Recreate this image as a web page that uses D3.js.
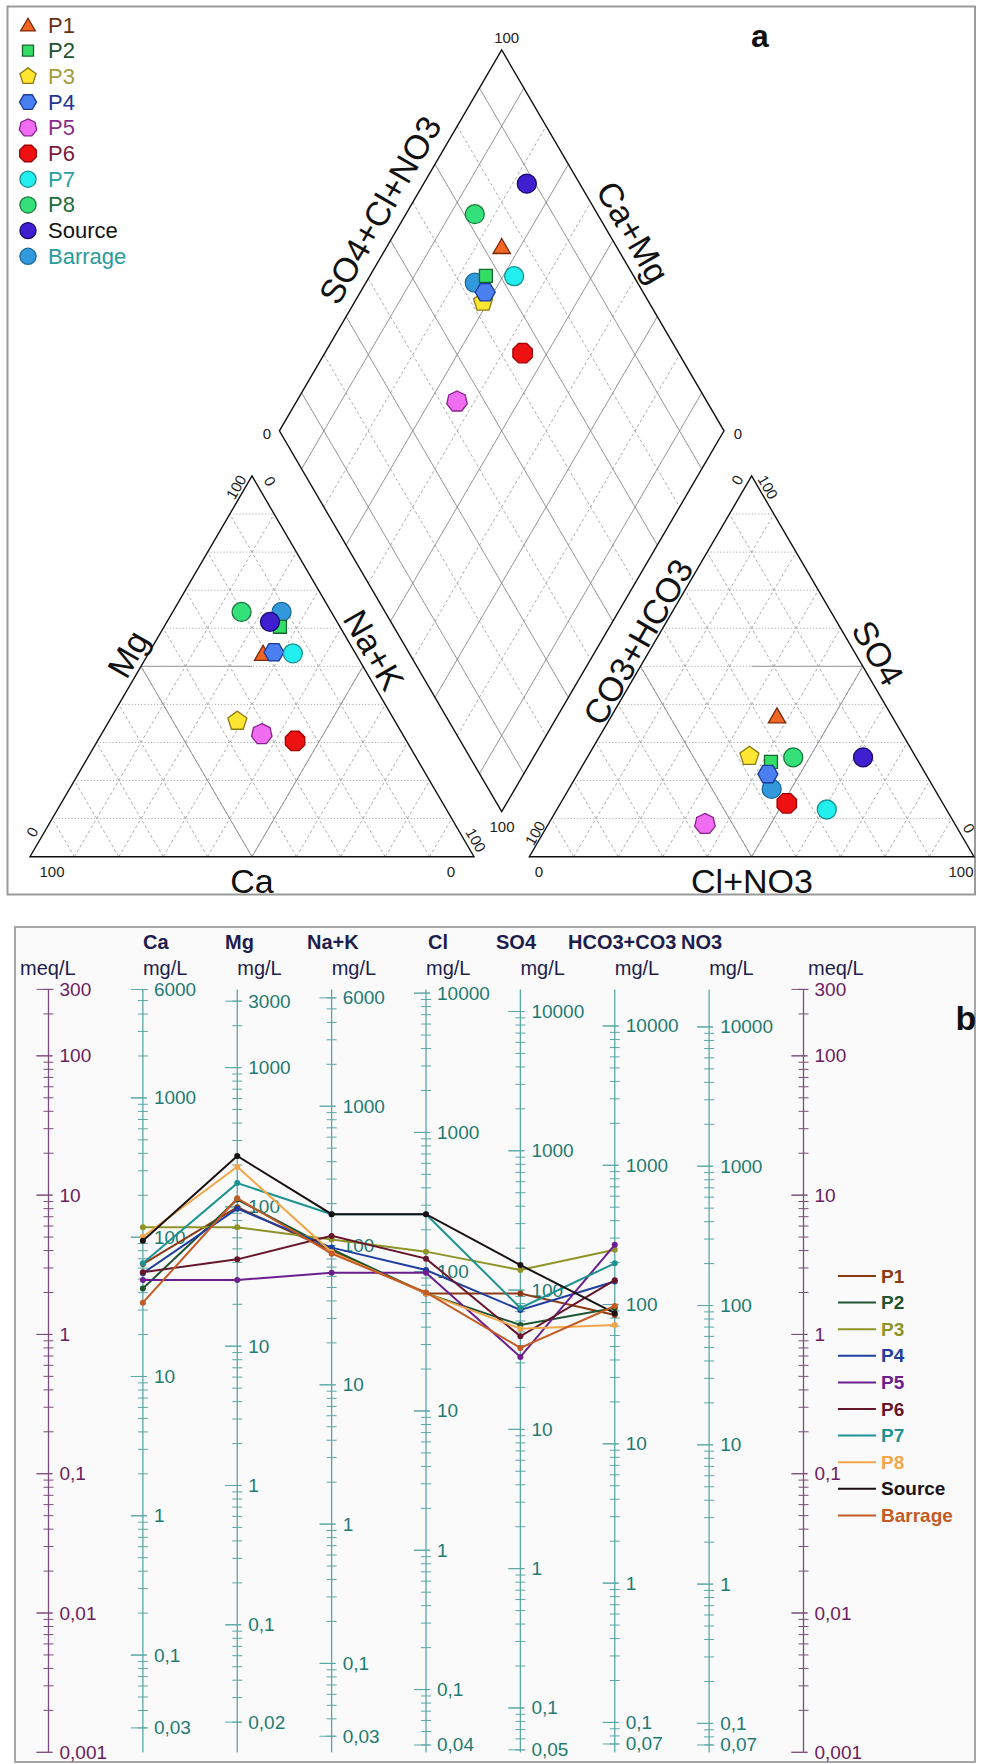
<!DOCTYPE html>
<html><head><meta charset="utf-8">
<script src="https://cdn.jsdelivr.net/npm/d3@7"></script>
<style>
body{margin:0;background:#fff}
svg{display:block}
text{font-family:"Liberation Sans",Arial,sans-serif}
</style></head>
<body><svg id="c" width="981" height="1764"></svg>
<script>
// ================= DATA =================
const samples = ["P1","P2","P3","P4","P5","P6","P7","P8","Source","Barrage"];
// Piper: cation percentages (meq %)
const pctCa  = [20.8,13.5,35.5,18.2,31.7,25.1,14.1,20.2,15.1,11.2];
const pctMg  = [53.4,60.4,35.6,53.7,32.2,30.4,53.4,64.3,61.7,64.3];
const pctNaK = [25.8,26.1,28.9,28.1,36.1,44.5,32.5,15.5,23.2,24.5];
// Piper: anion percentages (meq %)
const pctHCO3 = [25.8,33.2,37.3,35.5,56.2,35.1,26.9,27.6,11.9,36.6];
const pctSO4  = [37.0,24.9,26.4,21.7, 8.6,14.0,12.4,26.1,26.1,17.8];
const pctCl   = [37.2,41.9,36.3,42.8,35.2,50.9,60.7,46.3,62.0,45.6];

// Schoeller: concentrations in meq/L
const schoellerIons = ["Ca","Mg","Na+K","Cl","SO4","HCO3+CO3"];
const meqCa   = [3.2, 2.14,5.87,2.75,2.46,2.8, 3.24,5.03,4.7, 1.69];
const meqMg   = [8.2, 9.3, 5.87,8.0, 2.46,3.46,12.2,16.0,19.1,9.5];
const meqNaK  = [4.0, 4.1, 4.8, 4.2, 2.77,5.1, 7.3, 3.9, 7.3, 3.8];
const meqCl   = [1.97,1.97,3.93,2.9, 2.77,3.5, 7.3, 1.97,7.3, 2.0];
const meqSO4  = [1.97,1.17,2.9, 1.5, 0.69,0.97,1.55,1.1, 3.15,0.8];
const meqHCO3 = [1.38,1.55,4.05,2.4, 4.4, 2.45,3.24,1.17,1.42,1.6];

// Schoeller axes
const schoellerColumns = ["meqL","Ca","Mg","Na+K","Cl","SO4","HCO3+CO3","NO3","meqR"];
const columnHeaders = ["","Ca","Mg","Na+K","Cl","SO4","HCO3+CO3","NO3",""];
const equivWeights = [1,20.04,12.15,23.0,35.45,48.03,61.02,62.0,1];
const meqTickValues = [300,100,10,1,0.1,0.01,0.001];
const meqTickLabels = ["300","100","10","1","0,1","0,01","0,001"];
const ionTickValues = [
  null,
  [6000,1000,100,10,1,0.1,0.03],
  [3000,1000,100,10,1,0.1,0.02],
  [6000,1000,100,10,1,0.1,0.03],
  [10000,1000,100,10,1,0.1,0.04],
  [10000,1000,100,10,1,0.1,0.05],
  [10000,1000,100,10,1,0.1,0.07],
  [10000,1000,100,10,1,0.1,0.07],
  null];
const ionTickLabels = [
  null,
  ["6000","1000","100","10","1","0,1","0,03"],
  ["3000","1000","100","10","1","0,1","0,02"],
  ["6000","1000","100","10","1","0,1","0,03"],
  ["10000","1000","100","10","1","0,1","0,04"],
  ["10000","1000","100","10","1","0,1","0,05"],
  ["10000","1000","100","10","1","0,1","0,07"],
  ["10000","1000","100","10","1","0,1","0,07"],
  null];

// ================= STYLES =================
const symFill   = ["#f26522","#33dd66","#ffe633","#4a7ff0","#f06cf0","#ee1111","#22eeee","#33e07a","#3f1fd0","#3399dd"];
const symStroke = ["#7a2a08","#1a6630","#8a7a10","#1a3a9a","#8a2090","#a00000","#1a9090","#1a7a3a","#1a0a6a","#1a6a9a"];
const legTextA  = ["#6a2f15","#1f4f2f","#a59a3a","#1f3590","#8a2a8a","#7a1a3a","#2aa0a0","#1f6a3a","#111111","#2a9a9a"];
const lineCol   = ["#8a3a14","#1f5530","#8f9428","#1f3f9f","#6b1f8f","#66162a","#1d9391","#f2a64a","#1a1212","#c45a24"];
const shapes    = ["tri","sq","pent","hex","hept","oct","circ","circ","circ","circ"];
const drawOrder = [9,0,1,2,3,4,5,6,7,8];

const svg = d3.select("#c");

// ================= PANEL A : PIPER =================
svg.append("rect").attr("x",7.5).attr("y",6.5).attr("width",967.5).attr("height",888)
  .attr("fill","#fff").attr("stroke","#9a9a9a").attr("stroke-width",2);

const yT = d3.scaleLinear().domain([0,100]).range([856.7,476]);
const xL = d3.scaleLinear().domain([0,100]).range([30,474]);
const xR = d3.scaleLinear().domain([0,100]).range([529.3,974]);
const xD = d3.scaleLinear().domain([0,200]).range([279.4,724]);
const yD = d3.scaleLinear().domain([-100,100]).range([50,811.7]);

const catXY = (mg,na) => [xL(na+mg/2), yT(mg)];
const anXY  = (so4,cl) => [xR(cl+so4/2), yT(so4)];
const diaXY = (n,s) => [xD(s+n), yD(n-s)];

const gA = svg.append("g");
const line = d3.line();
function seg(g, p, q, stroke, w, dash){
  g.append("path").attr("d", line([p,q])).attr("fill","none")
    .attr("stroke",stroke).attr("stroke-width",w).attr("stroke-dasharray",dash||null);
}

const tenths = d3.range(10,100,10);
function triGrid(toXY){
  tenths.forEach(k=>{
    seg(gA, toXY(k,0), toXY(k,100-k), "#8a8a8a", 0.7, "1.2,2");
    seg(gA, toXY(0,k), toXY(100-k,k), "#8a8a8a", 0.7, "3,2.5");
    seg(gA, toXY(0,100-k), toXY(100-k,0), "#8a8a8a", 0.7, "3,2.5");
  });
}
triGrid(catXY);
triGrid(anXY);
seg(gA, catXY(50,0), catXY(50,25), "#a8a8a8", 1.2);
seg(gA, catXY(50,50), catXY(0,50), "#8a8a8a", 0.9);
seg(gA, catXY(50,0), catXY(0,50), "#8a8a8a", 0.9);
seg(gA, anXY(50,25), anXY(50,50), "#a8a8a8", 1.2);
seg(gA, anXY(50,0), anXY(0,50), "#8a8a8a", 0.9);
seg(gA, anXY(50,50), anXY(0,50), "#8a8a8a", 0.9);

tenths.forEach(k=>{
  const solid = (k/10)%2===1;
  seg(gA, diaXY(k,0), diaXY(k,100), solid?"#7a7a7a":"#8a8a8a", solid?0.8:0.7, solid?null:"3,2.5");
  seg(gA, diaXY(0,k), diaXY(100,k), solid?"#7a7a7a":"#8a8a8a", solid?0.8:0.7, solid?null:"3,2.5");
});

const outline = pts => gA.append("path").attr("d", line(pts)+"Z").attr("fill","none")
  .attr("stroke","#111").attr("stroke-width",1.4);
outline([catXY(0,0), catXY(0,100), catXY(100,0)]);
outline([anXY(0,0), anXY(0,100), anXY(100,0)]);
outline([diaXY(0,0), diaXY(0,100), diaXY(100,100), diaXY(100,0)]);

const tl = [
  ["100",506.7,37,0],["0",267,433,0],["0",738,433,0],["100",502,826,0],
  ["100",236,487,-60],["0",270,481,60],["0",32,832,-60],["100",476,840,60],
  ["100",52,871,0],["0",451,871,0],
  ["0",737,480,-60],["100",768,487,60],["100",535,833,-60],["0",969,828,60],
  ["0",539,871,0],["100",961,871,0]
];
tl.forEach(d=>{
  gA.append("text").attr("x",d[1]).attr("y",d[2]).attr("text-anchor","middle")
    .attr("dominant-baseline","central").attr("font-size",15).attr("fill","#222")
    .attr("transform",`rotate(${d[3]},${d[1]},${d[2]})`).text(d[0]);
});

const titles = [
  ["SO4+Cl+NO3",380,210,-60],["Ca+Mg",633,232,60],
  ["Mg",128,654,-60],["Na+K",374,650,60],["Ca",252,881,0],
  ["CO3+HCO3",638,642,-60],["SO4",878,653,60],["Cl+NO3",752,881,0]
];
titles.forEach(d=>{
  gA.append("text").attr("x",d[1]).attr("y",d[2]).attr("text-anchor","middle")
    .attr("dominant-baseline","central").attr("font-size",34).attr("fill","#111")
    .attr("transform",`rotate(${d[3]},${d[1]},${d[2]})`).text(d[0]);
});

function symPath(shape, r){
  const poly = (n, rot) => "M" + d3.range(n).map(i=>{
      const a = rot + 2*Math.PI*i/n; return [r*Math.cos(a), r*Math.sin(a)].map(v=>v.toFixed(2)).join(",");
    }).join("L") + "Z";
  switch(shape){
    case "tri": return poly(3,-Math.PI/2);
    case "sq": return `M${-r*0.72},${-r*0.72}h${r*1.44}v${r*1.44}h${-r*1.44}Z`;
    case "pent": return poly(5,-Math.PI/2);
    case "hex": return poly(6,0);
    case "hept": return poly(7,-Math.PI/2);
    case "oct": return poly(8,Math.PI/8);
    default: return d3.arc()({innerRadius:0,outerRadius:r,startAngle:0,endAngle:2*Math.PI});
  }
}
const symR = [10,9,10,10,10.5,10.5,9.5,9.5,9.5,9.5];
function drawSym(g, i, x, y, scale){
  const r = symR[i]*scale;
  g.append("path").attr("d", symPath(shapes[i], r))
    .attr("transform",`translate(${x},${y+(shapes[i]==="tri"?r*0.2:0)})`)
    .attr("fill",symFill[i]).attr("stroke",symStroke[i]).attr("stroke-width",1.3);
}
const gPts = svg.append("g");
drawOrder.forEach(i=>{
  const c = catXY(pctMg[i], pctNaK[i]);
  const a = anXY(pctSO4[i], pctCl[i]);
  const dd = diaXY(pctNaK[i], pctSO4[i]+pctCl[i]);
  drawSym(gPts,i,c[0],c[1],1);
  drawSym(gPts,i,a[0],a[1],1);
  drawSym(gPts,i,dd[0],dd[1],1);
});

const gLeg = svg.append("g");
samples.forEach((s,i)=>{
  const y = 25 + i*25.7;
  drawSym(gLeg,i,28,y,0.85);
  gLeg.append("text").attr("x",48).attr("y",y).attr("dominant-baseline","central")
    .attr("font-size",22).attr("fill",legTextA[i]).text(s);
});
svg.append("text").attr("x",760).attr("y",47).attr("text-anchor","middle")
  .attr("font-family","'Liberation Serif','Times New Roman',serif").attr("font-weight","bold")
  .attr("font-size",32).attr("fill","#111").text("a");

// ================= PANEL B : SCHOELLER =================
svg.append("rect").attr("x",15).attr("y",927).attr("width",960).attr("height",835)
  .attr("fill","#fafafa").attr("stroke","#a6a6a6").attr("stroke-width",2);

const xS = d3.scalePoint().domain(schoellerColumns).range([48.5,803.5]);
const yS = d3.scaleLog().domain([0.001,300]).range([1752.3,989.4]);
const gB = svg.append("g");

schoellerColumns.forEach((col,ci)=>{
  const x = xS(col);
  const isMeq = ci===0 || ci===schoellerColumns.length-1;
  const ew = equivWeights[ci];
  const sc = d3.scaleLog().domain([0.001*ew, 300*ew]).range(yS.range());
  const axCol = isMeq ? "#7d4d7d" : "#5aa8a6";
  const lbCol = isMeq ? "#6a2060" : "#1f7a72";
  gB.append("line").attr("x1",x).attr("x2",x).attr("y1",sc(300*ew)).attr("y2",sc(0.001*ew))
    .attr("stroke",axCol).attr("stroke-width",1.3);
  const lo = 0.001*ew*0.9999, hi = 300*ew*1.0001;
  const tv = isMeq ? meqTickValues : ionTickValues[ci];
  const tlab = isMeq ? meqTickLabels : ionTickLabels[ci];
  for(let k=Math.floor(Math.log10(lo)); k<=Math.ceil(Math.log10(hi)); k++){
    for(let m=1;m<=9;m++){
      const v = m*Math.pow(10,k);
      if(v<lo||v>hi) continue;
      const major = m===1;
      gB.append("line").attr("x1",x-(major?12:5)).attr("x2",x+(major?4:5))
        .attr("y1",sc(v)).attr("y2",sc(v)).attr("stroke",axCol).attr("stroke-width",1);
    }
  }
  tv.forEach((v,j)=>{
    gB.append("line").attr("x1",x-12).attr("x2",x+4).attr("y1",sc(v)).attr("y2",sc(v))
      .attr("stroke",axCol).attr("stroke-width",1);
    gB.append("text").attr("x",x+11).attr("y",sc(v)).attr("dominant-baseline","central")
      .attr("font-size",19).attr("fill",lbCol).text(tlab[j]);
  });
  const ux = ci===0 ? 20 : (isMeq ? 808 : x);
  gB.append("text").attr("x", ux).attr("y",968).attr("dominant-baseline","central")
    .attr("font-size",20).attr("fill","#1e1e4e").text(isMeq?"meq/L":"mg/L");
});
const headerX = [0,143,225,307,428,496,568,681,0];
columnHeaders.forEach((h,i)=>{
  if(!h) return;
  gB.append("text").attr("x",headerX[i]).attr("y",942).attr("dominant-baseline","central")
    .attr("font-size",20).attr("font-weight","bold").attr("fill","#1e1e4e").text(h);
});

const meqSeries = [meqCa,meqMg,meqNaK,meqCl,meqSO4,meqHCO3];
const lineGen = d3.line().x(d=>xS(d.ion)).y(d=>yS(d.v));
samples.forEach((s,i)=>{
  const pts = schoellerIons.map((ion,j)=>({ion, v: meqSeries[j][i]}));
  gB.append("path").attr("d",lineGen(pts)).attr("fill","none")
    .attr("stroke",lineCol[i]).attr("stroke-width",2);
  pts.forEach(p=>gB.append("circle").attr("cx",xS(p.ion)).attr("cy",yS(p.v)).attr("r",3)
    .attr("fill",lineCol[i]));
});

samples.forEach((s,i)=>{
  const y = 1276 + i*26.6;
  gB.append("line").attr("x1",838).attr("x2",876).attr("y1",y).attr("y2",y)
    .attr("stroke",lineCol[i]).attr("stroke-width",2);
  gB.append("text").attr("x",881).attr("y",y).attr("dominant-baseline","central")
    .attr("font-size",19).attr("font-weight","bold").attr("fill",lineCol[i]).text(s);
});
svg.append("text").attr("x",966).attr("y",1030).attr("text-anchor","middle")
  .attr("font-family","'Liberation Serif','Times New Roman',serif").attr("font-weight","bold")
  .attr("font-size",34).attr("fill","#111").text("b");
</script>
</body></html>
